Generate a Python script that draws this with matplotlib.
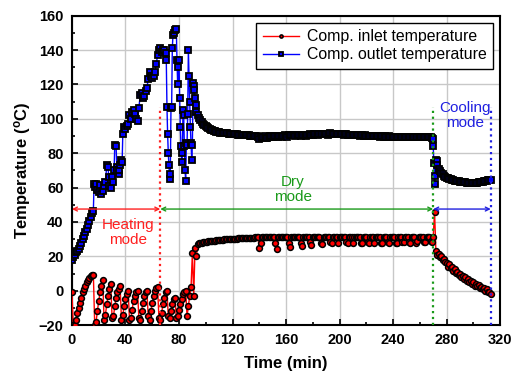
import numpy as np
import matplotlib
matplotlib.use("Agg")
import matplotlib.pyplot as plt
from matplotlib.ticker import MultipleLocator

plt.rcParams['font.family'] = 'Liberation Sans'
plt.rcParams['mathtext.fontset'] = 'custom'
plt.rcParams['mathtext.rm'] = 'Liberation Sans'
plt.rcParams['mathtext.bf'] = 'Liberation Sans:bold'

# Compressor inlet temperature, one reading per minute from 0 to 313 min
inlet_time = np.arange(0, 314)
inlet_temp = [
    -1, -20, -20, -17, -13, -10, -7, -4, -1, 1,
    3, 5, 6.5, 7.5, 8.3, 9, 9.3, -20, -18, -12,
    -6, -1, 3, 6, -17, -14, -8, -3, 1, 4,
    -16, -15, -9, -4, -1, 1, 2.5, -17, -14, -9,
    -5, -2, 0, -17, -16, -11, -6, -3, -1, 0,
    -16, -17, -12, -7, -3, -1, 0, -15, -17, -12,
    -7, -3, 0, 1.5, 2, -16, -17, -13, -8, -4,
    -1, 0, -15, -16, -12, -8, -5, -4, -16, -15,
    -11, -8, -5, -2, -1, 0, -15, -9, -3, 2,
    22, -3, 25, 20, 27, 27.5, 27.8, 28, 28.1, 28.3,
    28.5, 28.6, 28.7, 28.8, 28.9, 29, 29.1, 29.2, 29.3, 29.4,
    29.5, 29.6, 29.6, 29.7, 29.8, 29.8, 29.9, 30, 30, 30.1,
    30.2, 30.2, 30.3, 30.3, 30.4, 30.4, 30.5, 30.5, 30.6, 30.6,
    30.6, 30.7, 30.7, 30.8, 30.8, 30.9, 30.9, 31, 31, 31,
    25, 28, 31, 31.1, 31.1, 31.2, 31.2, 31.2, 31.3, 31.3,
    31.3, 31.3, 28, 24.5, 31, 31.3, 31.4, 31.4, 31.4, 31.4,
    31.4, 31.4, 28, 25.5, 31.2, 31.4, 31.5, 31.5, 31.5, 31.5,
    31.5, 28, 26, 31.3, 31.5, 31.5, 31.5, 31.5, 28.5, 26.5,
    31.3, 31.5, 31.5, 31.5, 31.5, 31.5, 28, 27, 31.4, 31.5,
    31.5, 31.5, 31.5, 28.5, 27.5, 31.4, 31.5, 31.5, 31.5, 27.5,
    31, 31.5, 31.5, 31.5, 31.5, 28.5, 27.5, 31.4, 31.5, 31.5,
    28, 31, 31.5, 31.5, 31.5, 31.5, 28, 27.5, 31.4, 31.5,
    31.5, 28.5, 27.8, 31.4, 31.5, 31.5, 28, 31.2, 31.5, 31.5,
    31.5, 28, 27.5, 31.4, 31.5, 31.5, 28.3, 27.8, 31.4, 31.5,
    31.5, 31.5, 28, 28, 31.4, 31.5, 31.5, 28.2, 28.5, 31.5,
    31.5, 31.5, 28.5, 28, 31.4, 31.5, 31.5, 28, 28.8, 31.5,
    31.5, 31.5, 31.5, 28.5, 28.5, 31.5, 31.5, 31.5, 29, 28.5,
    31.5, 46, 23, 21, 21.5, 19.5, 20, 18, 18.5, 16.5,
    16, 14, 15.5, 13, 13.8, 11.5, 12.5, 10.5, 11, 9,
    9.8, 7.8, 8.8, 7, 7.8, 5.8, 6.8, 5, 5.8, 4,
    4.8, 3, 4, 2.5, 3.2, 1.5, 2.4, 0.8, 1.6, 0,
    0.8, -1, -0.5, -2,
]

# Compressor outlet temperature, heating mode (irregular readings)
outlet_time_heat = [
    0, 1, 2, 3, 4, 5, 6, 7, 8, 9, 10, 11, 12, 13, 14, 15, 16,
    16.5, 17, 18, 19, 20, 21, 22, 23, 24, 25, 26, 27, 27.5, 28, 29, 30,
    31, 31.5, 32, 33, 33.5, 34, 35, 35.5, 36, 37, 37.5, 38, 39, 40,
    41, 42, 43, 44, 45, 46, 47, 48, 49, 50, 51, 52, 53, 54, 55, 56,
    57, 58, 59, 60, 61, 62, 63, 64, 65, 66, 67, 68, 69, 70, 70.5, 71,
    71.5, 72, 72.5, 73, 73.5, 74, 74.5, 75, 75.5, 76, 77, 78, 78.5, 79,
    79.5, 80, 80.5, 81, 81.5, 82, 82.5, 83, 83.5, 84, 84.5, 85, 85.5, 86,
    86.5, 87, 87.5, 88, 88.5, 89, 89.5, 90, 90.5, 91, 91.5, 92, 92.5, 93, 94,
]
outlet_temp_heat = [
    18, 19.5, 21, 22.3, 23.3, 24.5, 26, 28, 30, 32, 34, 36, 38.5, 40.5, 43, 45, 46.5,
    62, 60.5, 62, 58.5, 57.5, 61.5, 56, 58, 61, 63, 73, 72, 66, 61, 60, 66,
    63, 70, 85, 84, 72, 70, 68, 70, 73, 76, 75, 91, 95, 94,
    96, 97, 102, 100, 104, 105, 103, 100, 99, 106, 114, 115, 112, 113, 116, 118,
    123, 127, 125, 124, 125, 127, 132, 137, 140, 141, 139, 140, 140, 138.5, 134, 107,
    91, 80, 73, 65, 68, 106, 107, 141, 149, 150, 151.5, 152, 134, 120,
    130, 134, 112, 95, 84, 75, 80, 105, 102, 84, 70, 64, 86, 85,
    103, 140, 125, 110, 95, 86, 76, 85, 121, 119, 117, 112, 108, 104, 102,
]

# Compressor outlet temperature, dry mode, one reading per minute 95-269 min
outlet_time_dry = np.arange(95, 270)
outlet_temp_dry = [
    100.5, 99.2, 98, 97.2, 96.4, 95.6, 95, 94.5, 94, 93.6,
    93.3, 93, 92.8, 92.6, 92.4, 92.2, 92, 91.9, 91.8, 91.7,
    91.6, 91.5, 91.4, 91.3, 91.2, 91.1, 91, 91, 90.9, 90.8,
    90.8, 90.7, 90.6, 90.6, 90.5, 90.4, 90.4, 90.3, 90.2, 90.2,
    90.1, 90, 90, 89.9, 89.6, 88.5, 89.3, 88.8, 89.5, 89.8,
    88.6, 89, 89.6, 89.9, 90, 89.4, 89.2, 89.8, 90, 89.5,
    89.8, 90.2, 89.5, 90, 90.4, 90.2, 89.6, 90.3, 90.6, 90.5,
    90.4, 90.8, 89.8, 90.3, 90.6, 90.4, 89.9, 90.5, 90.7, 90.6,
    90.2, 90.8, 90.6, 90.9, 90.5, 90.8, 91, 91.2, 91, 90.8,
    91.3, 91.2, 91, 91.2, 91.4, 91.2, 90.8, 91.2, 91.5, 91.3,
    91, 91.3, 91.4, 91.2, 90.9, 91.2, 91.1, 91, 90.8, 91,
    90.9, 90.6, 90.8, 90.7, 90.5, 90.7, 90.6, 90.3, 90.5, 90.4,
    90.2, 90.4, 90.3, 90.1, 90.3, 90.2, 90, 90.2, 90.1, 89.9,
    90.1, 90, 89.8, 90, 89.9, 89.7, 89.9, 89.8, 89.6, 89.8,
    89.7, 89.6, 89.8, 89.7, 89.5, 89.7, 89.6, 89.5, 89.7, 89.6,
    89.4, 89.6, 89.5, 89.4, 89.6, 89.5, 89.3, 89.5, 89.4, 89.3,
    89.5, 89.4, 89.3, 89.5, 89.4, 89.2, 89.4, 89.3, 89.2, 89.4,
    89.3, 89.2, 89.3, 89.2, 89.1,
]

# Compressor outlet temperature, cooling mode
outlet_time_cool = [
    269.5, 270, 270.5, 271, 271.5, 272, 272.5, 273, 274, 275, 276, 277, 278, 279,
    280, 281, 282, 283, 284, 285, 286, 287, 288, 289, 290, 291, 292, 293, 294,
    295, 296, 297, 298, 299, 300, 301, 302, 303, 304, 305, 306, 307, 308, 309,
    310, 311, 312, 313,
]
outlet_temp_cool = [
    88.5, 84, 74, 62, 67, 76, 75.5, 73, 71, 69.6, 68.5, 67.6, 66.9, 66.3,
    65.8, 65.4, 65.1, 64.8, 64.5, 64.3, 64.1, 63.9, 63.7, 63.6, 63.4, 63.3, 63.2, 63.1, 63,
    62.9, 62.9, 62.8, 62.8, 62.7, 62.7, 62.8, 62.8, 62.9, 63, 63.1, 63.3, 63.4, 63.6, 63.8,
    64, 64.2, 64.4, 64.6,
]

outlet_time = list(outlet_time_heat) + list(outlet_time_dry) + list(outlet_time_cool)
outlet_temp = outlet_temp_heat + outlet_temp_dry + outlet_temp_cool

# Mode boundaries (min), label text and colours
mode_bounds = [0, 66, 270, 313]
mode_labels = ['Heating\nmode', 'Dry\nmode', 'Cooling\nmode']
mode_colors = ['#ff2020', '#1a9a1a', '#2020e0']
label_pos = [(42, 34), (165, 59), (294, 102)]
arrow_y = 47.5
divider_top = 107

fig, ax = plt.subplots(figsize=(5.14, 3.82), dpi=100)
fig.subplots_adjust(left=0.140, right=0.973, top=0.959, bottom=0.149)

ax.plot(inlet_time, inlet_temp, color='red', lw=1.0, marker='o', markersize=4.2,
        markerfacecolor='red', markeredgecolor='black', markeredgewidth=1.1,
        label='Comp. inlet temperature', zorder=3)
ax.plot(outlet_time, outlet_temp, color='blue', lw=1.0, marker='s', markersize=4.5,
        markerfacecolor='blue', markeredgecolor='black', markeredgewidth=1.3,
        label='Comp. outlet temperature', zorder=3)

# dotted dividers
ax.vlines(mode_bounds[1:], -20, divider_top, colors=mode_colors, linestyles=':', lw=1.6, zorder=4)

# double arrows for each mode
for i in range(3):
    ax.annotate('', xy=(mode_bounds[i], arrow_y), xytext=(mode_bounds[i + 1], arrow_y),
                arrowprops=dict(arrowstyle='<->', color=mode_colors[i], lw=1.0,
                                shrinkA=0, shrinkB=0, mutation_scale=7), zorder=4)
    ax.text(label_pos[i][0], label_pos[i][1], mode_labels[i], color=mode_colors[i],
            fontsize=11, ha='center', va='center', linespacing=1.05, zorder=5)

ax.set_xlim(0, 320)
ax.set_ylim(-20, 160)
ax.xaxis.set_major_locator(MultipleLocator(40))
ax.xaxis.set_minor_locator(MultipleLocator(20))
ax.yaxis.set_major_locator(MultipleLocator(20))
ax.yaxis.set_minor_locator(MultipleLocator(10))
ax.tick_params(which='both', direction='in', top=False, right=False, width=1.2)
ax.tick_params(which='major', length=4, labelsize=10.5, pad=6)
ax.tick_params(which='minor', length=2.5)
for lbl in ax.get_xticklabels() + ax.get_yticklabels():
    lbl.set_fontweight('bold')

ax.grid(True, which='major', color='#c8c8c8', lw=1.0)
ax.set_axisbelow(True)
for sp in ax.spines.values():
    sp.set_linewidth(1.5)

ax.set_xlabel('Time (min)', fontsize=12, fontweight='bold', labelpad=6)
ax.set_ylabel(r'Temperature ($\mathbf{^o}$C)', fontsize=12, fontweight='bold', labelpad=4)

leg = ax.legend(loc='upper right', fontsize=11.4, handlelength=2.3, markerscale=0.55,
                fancybox=False, framealpha=1, edgecolor='black', borderaxespad=0.45,
                handletextpad=0.5, labelspacing=0.2)
leg.get_frame().set_linewidth(1.0)

fig.savefig('out.png', dpi=100)
